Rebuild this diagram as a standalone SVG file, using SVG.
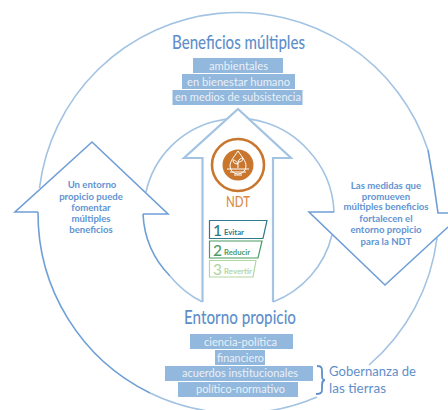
<svg xmlns="http://www.w3.org/2000/svg" width="448" height="410" viewBox="0 0 448 410">
<style>
text{font-family:"Lato","Noto Sans","Liberation Sans",sans-serif;text-anchor:middle}
.l{fill:none;stroke:#a3c3e3;stroke-width:1.6}
.d{fill:none;stroke:#6f9fd6;stroke-width:1.6}
.bar{fill:#92b8dd}
.bt{fill:#e9f0f8;font-size:11.500px}
.h{fill:#5f8fca;font-size:18.500px;font-weight:500}
.s{fill:#6294d2;font-size:9.600px;font-weight:700}
.n{font-size:15.500px;text-anchor:start;font-weight:500}
.k{font-size:7.500px;font-weight:700;text-anchor:start}
.g{fill:#5f8fca;font-size:13.500px;text-anchor:start}
</style>
<rect width="448" height="410" fill="#fff"/>
<g id="connectors">
<path class="l" d="M39.500 188A200 200 0 0 1 428 150"/>
<path class="l" d="M437 238A200 200 0 0 1 369 365"/>
<path class="l" d="M317 397A201 201 0 0 1 150 393"/>
<path class="d" d="M38 212A200 200 0 0 0 150 393"/>
<path class="l" d="M146 192A94 94 0 0 1 308 150"/>
<path class="d" d="M143 214A95 95 0 0 0 170 276"/>
<path class="l" d="M170 276A96 96 0 0 0 202.500 302"/>
<path class="l" d="M332 235A96 96 0 0 1 273 302"/>
<path class="l" d="M334 212A96 96 0 0 0 308 150"/>
</g>
<g id="arrow-main">
<path fill="#fff" stroke="#a3c3e3" stroke-width="2.200" d="M202.500 302V158H184L238 109L291 158H273V302"/>
</g>
<g id="arrow-left">
<path fill="none" stroke="#6f9fd6" stroke-width="1.600" d="M38 212H15L92 142L168 214H143"/>
<text class="s" x="92" y="188">Un entorno</text>
<text class="s" x="91" y="200">propicio puede</text>
<text class="s" x="91" y="211">fomentar</text>
<text class="s" x="91" y="222">múltiples</text>
<text class="s" x="91" y="233">beneficios</text>
</g>
<g id="arrow-right">
<path fill="none" stroke="#6f9fd6" stroke-width="1.600" d="M334 212H309L385 285L448 227"/>
<path fill="none" stroke="#6f9fd6" stroke-width="1.600" d="M428 150Q434 182 438 213H448"/>
<text class="s" x="386" y="189">Las medidas que</text>
<text class="s" x="386" y="200">promueven</text>
<text class="s" x="386" y="210">múltiples beneficios</text>
<text class="s" x="386" y="222">fortalecen el</text>
<text class="s" x="386" y="233">entorno propicio</text>
<text class="s" x="386" y="245">para la NDT</text>
</g>
<g id="benefits">
<text class="h" x="238.500" y="49" textLength="133" lengthAdjust="spacingAndGlyphs">Beneficios múltiples</text>
<rect class="bar" x="193" y="58" width="90" height="15"/>
<rect class="bar" x="182" y="74" width="113" height="15"/>
<rect class="bar" x="172.500" y="90" width="130" height="15"/>
<text class="bt" x="238.500" y="69.500" textLength="59" lengthAdjust="spacingAndGlyphs">ambientales</text>
<text class="bt" x="238.500" y="85.500" textLength="103" lengthAdjust="spacingAndGlyphs">en bienestar humano</text>
<text class="bt" x="238" y="101" textLength="126" lengthAdjust="spacingAndGlyphs">en medios de subsistencia</text>
</g>
<g id="ndt">
<circle cx="238" cy="165" r="26" fill="#fff" stroke="#c9772e" stroke-width="2.600"/>
<circle cx="238" cy="165" r="15.500" fill="#c9772e"/>
<path fill="none" stroke="#fff" stroke-width="1" d="M238 151C234 157 230 161 230 166A8 8 0 0 0 246 166C246 161 242 157 238 151ZM238 168V162M238 164C236 160 234 160 233 160C233 163 235 164 238 164ZM238 162C239 159 241 158 243 158C243 161 241 162 238 162ZM227 169H249M230 172H246M234 175H242"/>
<text x="238" y="207" fill="#d98b45" font-size="15.500" font-weight="500" textLength="24" lengthAdjust="spacingAndGlyphs">NDT</text>
</g>
<g id="evitar">
<path fill="#fff" stroke="#2f7a8c" stroke-width="1.200" d="M209.500 220.500H267L263 238.500H209.500Z"/>
<text class="n" x="213" y="235.500" fill="#2f7a8c">1</text>
<text class="k" x="224" y="235" fill="#2f7a8c" textLength="20" lengthAdjust="spacingAndGlyphs">Evitar</text>
</g>
<g id="reducir">
<path fill="#fff" stroke="#4b9b63" stroke-width="1.200" d="M209.500 241H262L258 258H209.500Z"/>
<text class="n" x="213" y="255.500" fill="#4b9b63">2</text>
<text class="k" x="224" y="255" fill="#4b9b63" textLength="26" lengthAdjust="spacingAndGlyphs">Reducir</text>
</g>
<g id="revertir">
<path fill="#fff" stroke="#b3d6a3" stroke-width="1.200" d="M209.500 260.500H256L253 277H209.500Z"/>
<text class="n" x="213" y="275" fill="#b3d6a3">3</text>
<text class="k" x="224" y="274" fill="#b3d6a3" textLength="28" lengthAdjust="spacingAndGlyphs">Revertir</text>
</g>
<g id="enabling">
<text class="h" x="240" y="324" textLength="112" lengthAdjust="spacingAndGlyphs">Entorno propicio</text>
<rect class="bar" x="190" y="334" width="103" height="15"/>
<rect class="bar" x="215" y="350" width="50" height="15"/>
<rect class="bar" x="165" y="366" width="148" height="15"/>
<rect class="bar" x="178" y="382" width="120" height="15"/>
<text class="bt" x="240.500" y="345.500" textLength="73" lengthAdjust="spacingAndGlyphs">ciencia-política</text>
<text class="bt" x="240.500" y="361.500" textLength="47" lengthAdjust="spacingAndGlyphs">financiero</text>
<text class="bt" x="240" y="377" textLength="116" lengthAdjust="spacingAndGlyphs">acuerdos institucionales</text>
<text class="bt" x="240.500" y="393" textLength="89" lengthAdjust="spacingAndGlyphs">político-normativo</text>
</g>
<g id="gobernanza">
<path fill="none" stroke="#5f8fca" stroke-width="1.800" d="M317 366C323 366 322 370 322 374C322 378 322 380 325 380C322 380 322 383 322 387C322 391 323 394 316 394"/>
<text class="g" x="329" y="376" textLength="87" lengthAdjust="spacingAndGlyphs">Gobernanza de</text>
<text class="g" x="329" y="393" textLength="57" lengthAdjust="spacingAndGlyphs">las tierras</text>
</g>
</svg>
